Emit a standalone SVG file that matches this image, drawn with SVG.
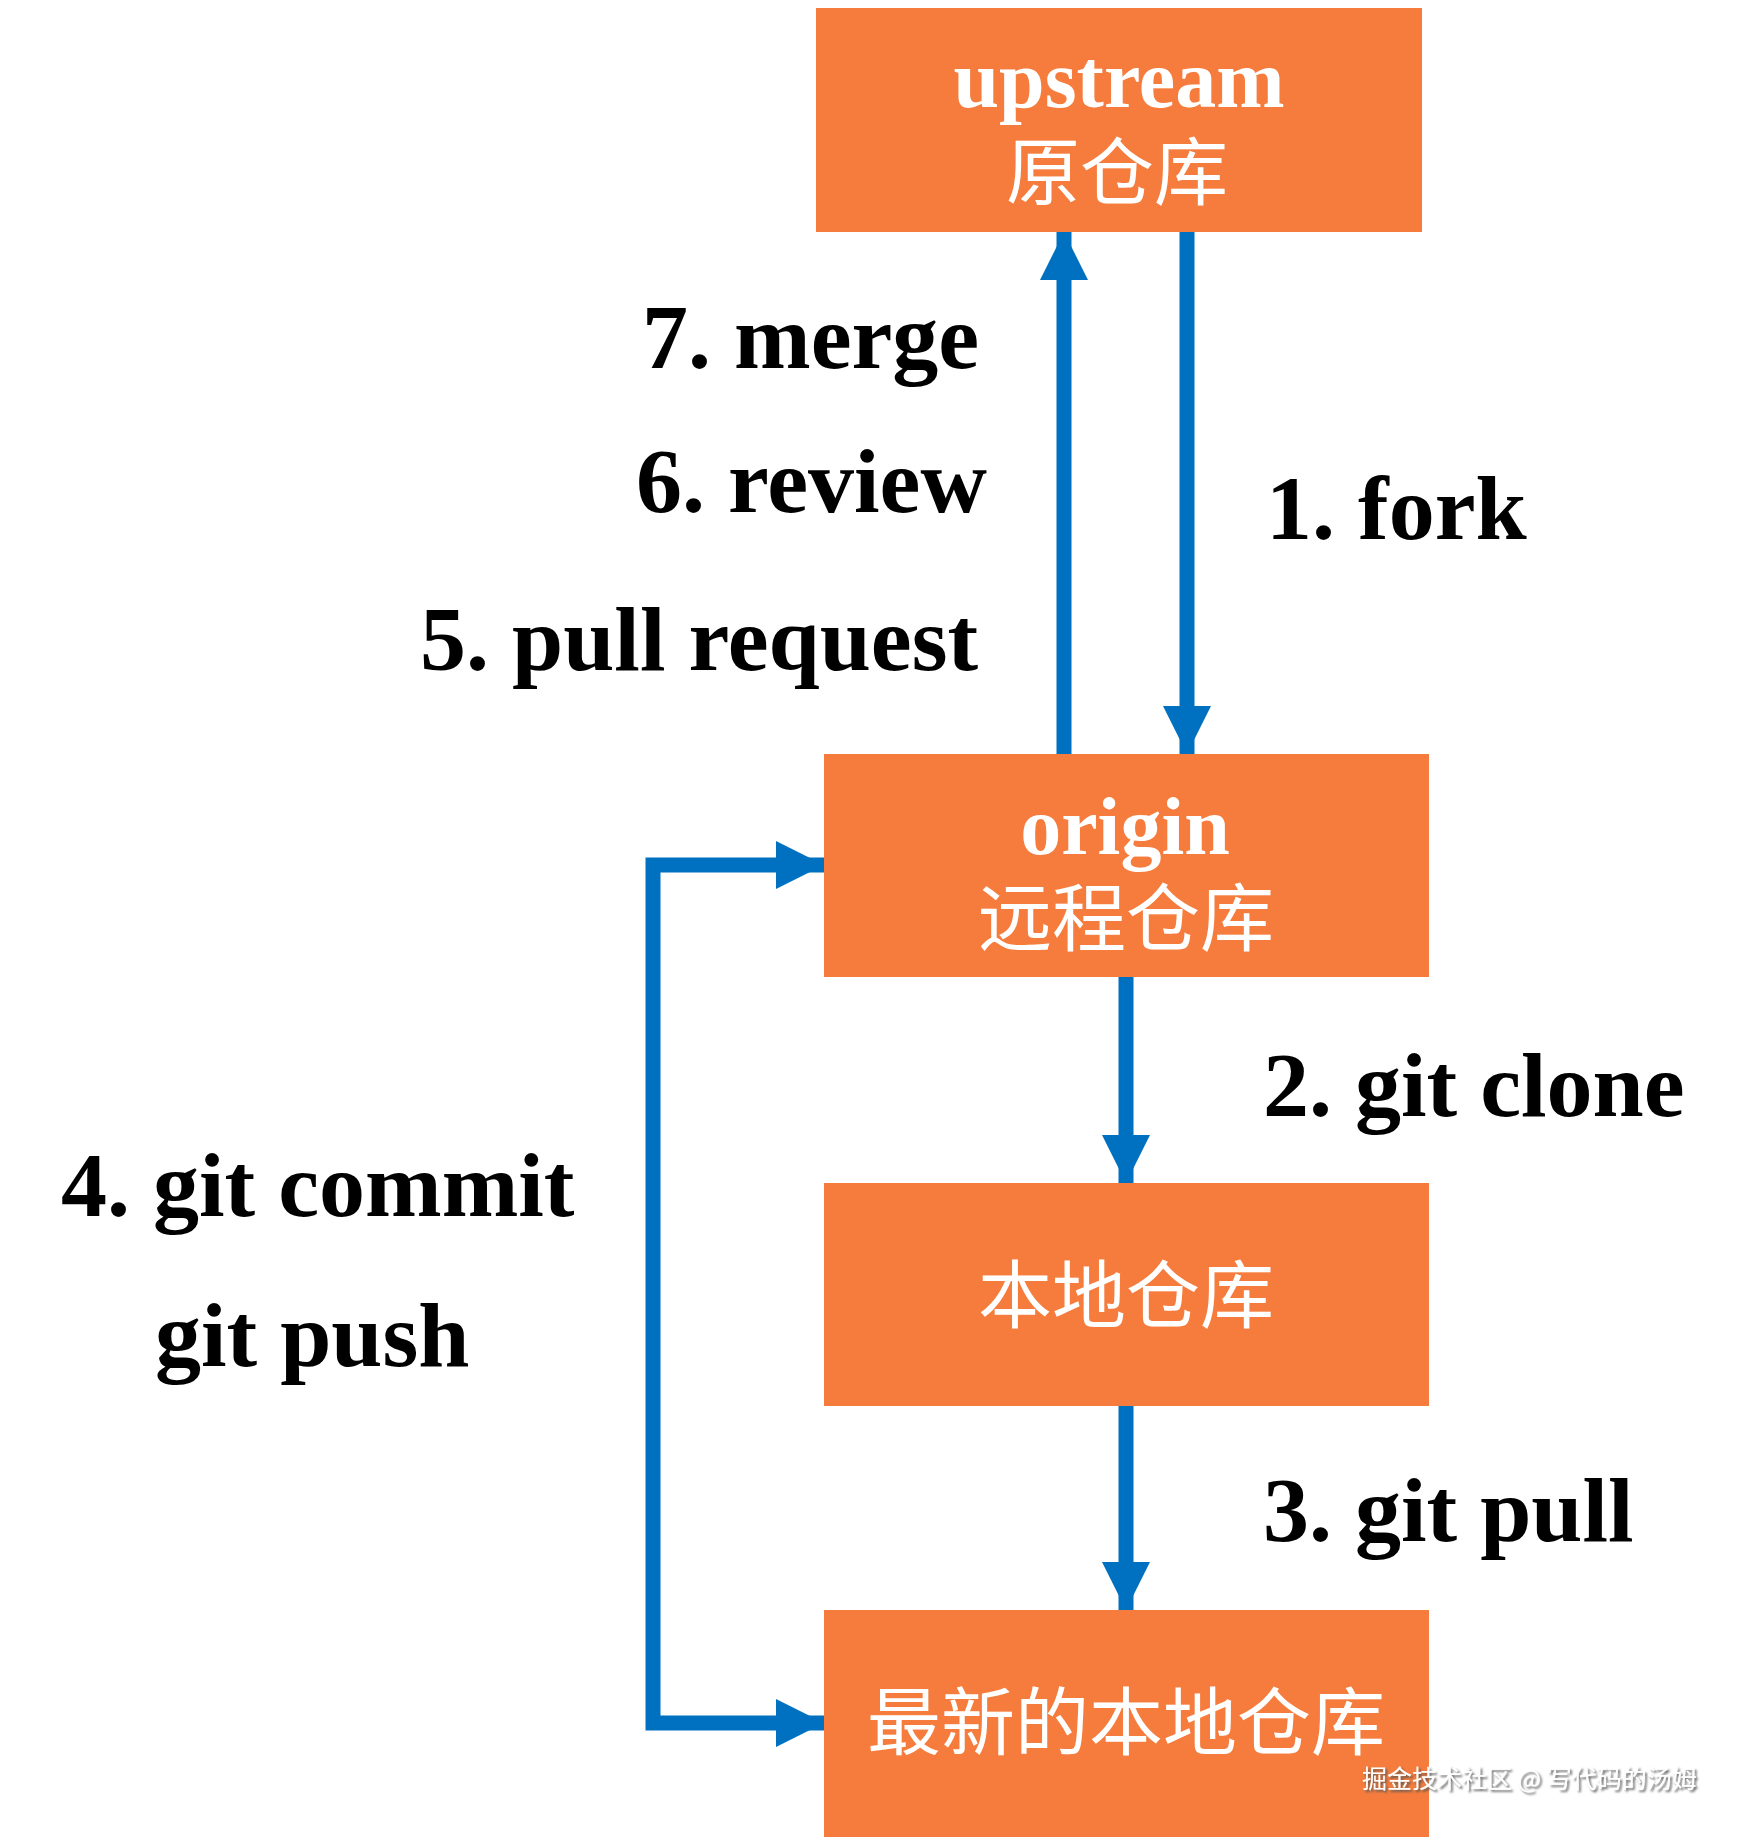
<svg xmlns="http://www.w3.org/2000/svg" width="1741" height="1837" viewBox="0 0 1741 1837">
<style>
.box{fill:#F57C3C}
.en{font-family:"Liberation Serif","Times New Roman",serif;font-weight:bold;fill:#fff;font-size:82px;text-anchor:middle}
.cn{font-family:"Noto Sans CJK SC","Noto Sans CJK JP",sans-serif;fill:#fff;font-size:74px;text-anchor:middle}
.lbl{font-family:"Liberation Serif","Times New Roman",serif;font-weight:bold;fill:#000;font-size:92px}
.ln{fill:none;stroke:#0070C0;stroke-width:15}
.wm{font-family:"Noto Sans CJK SC",sans-serif;font-size:25px;fill:#fff}
</style>
<defs>
<marker id="ah" viewBox="0 0 48 48" refX="48" refY="24" markerWidth="48" markerHeight="48" markerUnits="userSpaceOnUse" orient="auto-start-reverse">
<path d="M0 0 L48 24 L0 48 Z" fill="#0070C0"/>
</marker>
<filter id="sh" x="-10%" y="-50%" width="120%" height="200%">
<feDropShadow dx="2" dy="2" stdDeviation="1" flood-color="#555" flood-opacity="0.9"/>
</filter>
</defs>
<rect width="1741" height="1837" fill="#fff"/>
<g id="connectors">
<path class="ln" d="M1064 754 L1064 232" marker-end="url(#ah)"/>
<path class="ln" d="M1187 232 L1187 754" marker-end="url(#ah)"/>
<path class="ln" d="M1126 977 L1126 1183" marker-end="url(#ah)"/>
<path class="ln" d="M1126 1406 L1126 1610" marker-end="url(#ah)"/>
<path class="ln" d="M824 865 L653 865 L653 1723 L824 1723" marker-start="url(#ah)" marker-end="url(#ah)"/>
</g>
<g id="upstream">
<rect class="box" x="816" y="8" width="606" height="224"/>
<text class="en" x="1119" y="107">upstream</text>
<text class="cn" x="1117" y="199">原仓库</text>
</g>
<g id="origin">
<rect class="box" x="824" y="754" width="605" height="223"/>
<text class="en" x="1125" y="854">origin</text>
<text class="cn" x="1126" y="945">远程仓库</text>
</g>
<g id="local">
<rect class="box" x="824" y="1183" width="605" height="223"/>
<text class="cn" x="1126" y="1322">本地仓库</text>
</g>
<g id="latest">
<rect class="box" x="824" y="1610" width="605" height="227"/>
<text class="cn" x="1126" y="1749">最新的本地仓库</text>
</g>
<g id="labels">
<text class="lbl" x="642" y="368">7. merge</text>
<text class="lbl" x="636" y="512">6. review</text>
<text class="lbl" x="420" y="670">5. pull request</text>
<text class="lbl" x="1266" y="539">1. fork</text>
<text class="lbl" x="1263" y="1116">2. git clone</text>
<text class="lbl" x="1263" y="1541">3. git pull</text>
<text class="lbl" x="61" y="1216">4. git commit</text>
<text class="lbl" x="155" y="1366">git push</text>
</g>
<text class="wm" x="1362" y="1788" filter="url(#sh)">掘金技术社区 @ 写代码的汤姆</text>
</svg>
